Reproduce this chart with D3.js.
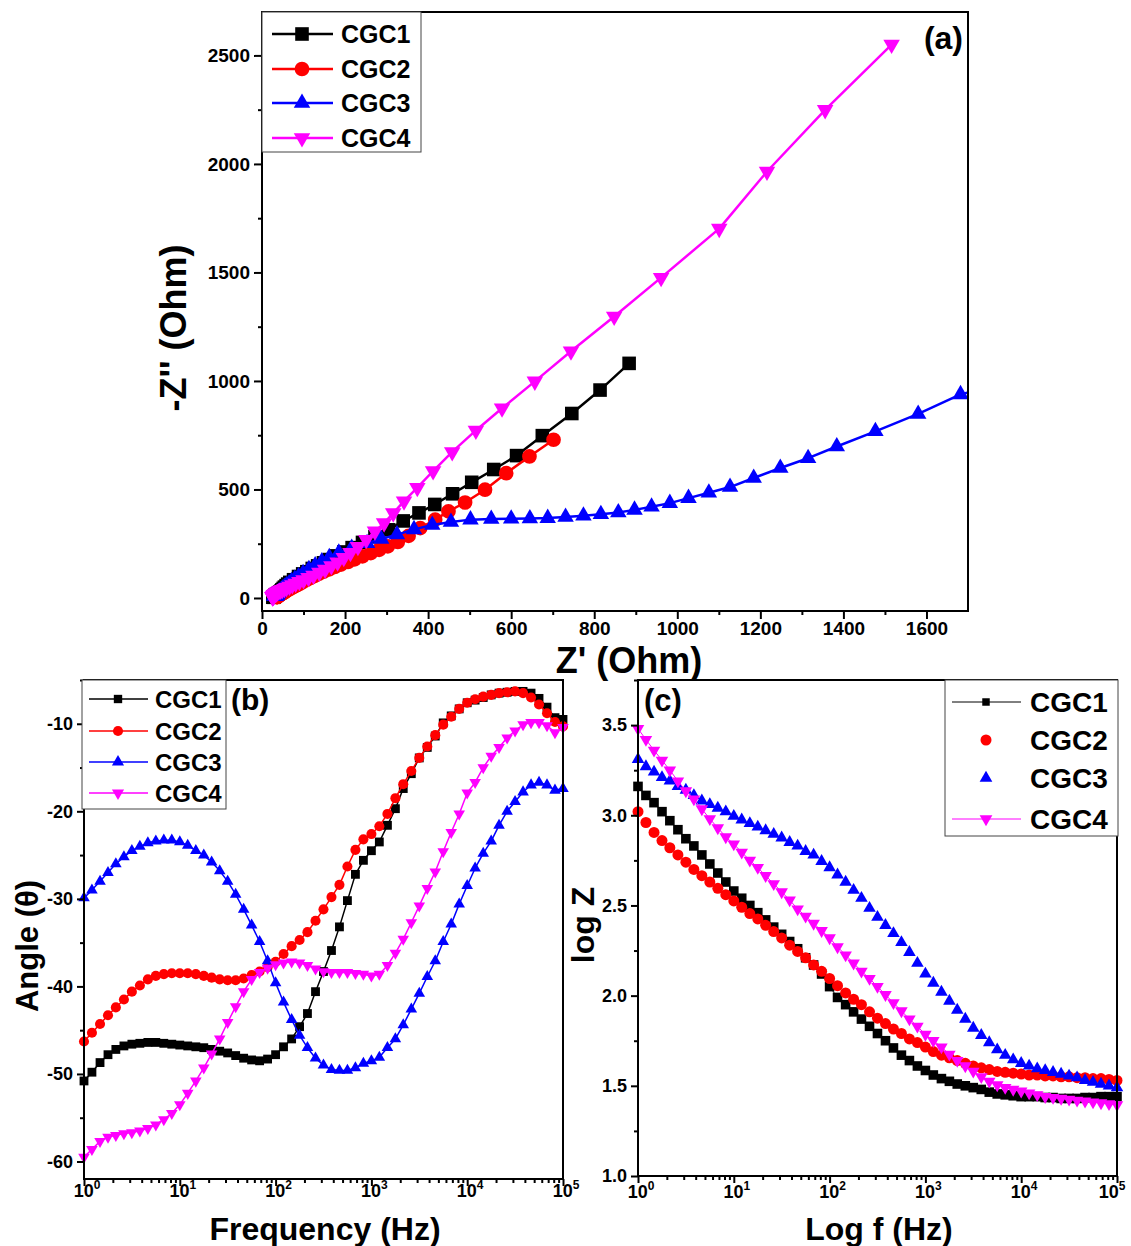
<!DOCTYPE html>
<html>
<head>
<meta charset="utf-8">
<script src="https://cdn.jsdelivr.net/npm/d3@7"></script>
<style>
html, body { margin: 0; padding: 0; background: #fff; }
svg { display: block; }
</style>
</head>
<body>
<script>
// ---------- data ----------
const seriesNames  = ["CGC1", "CGC2", "CGC3", "CGC4"];
const seriesColors = ["#000000", "#ff0000", "#0000ff", "#ff00ff"];

// Nyquist points [Z' (Ohm), -Z'' (Ohm)], low frequency first
const nyqCGC1 = [[884,1081],[814,958],[746,850],[675,748],[613,656],[558,592],[505,533],[459,480],[416,431],[378,392],[340,355],[305,314],[272,282],[242,256],[217,232],[197,212],[179,194],[162,177],[148,162],[134,148],[121,136],[108,121],[98,111],[88,99],[76,84],[67,72],[62,64],[58,57],[54,50],[51,44],[48,38],[46,33],[43,28],[41,24],[39,20],[37,18],[35,16],[33,14],[32,13],[31,11],[31,10],[30,8],[30,7],[29,6],[28.5,5.5],[28,5],[27.8,4.5],[27.5,4],[27.3,3.6],[27.2,3.4],[27,3.3]];
const nyqCGC2 = [[702,729],[644,652],[588,575],[537,499],[489,440],[449,399],[417,361],[381,322],[353,286],[327,258],[303,238],[282,222],[262,207],[242,192],[223,178],[207,166],[190,154],[175,143],[162,132],[148,121],[137,111],[126,101],[116,92],[108,84],[99,75],[92,67],[85,60],[79,54],[74,49],[69,43],[64,39],[61,35],[57,31],[55,27],[52,24],[50,22],[48,20],[46,18],[44,16],[43,14],[42,13],[41,11],[40,10],[39,9],[38,7.6],[37.4,6.7],[37,6],[36.8,5.4],[36.4,4.9],[36,4.5],[35.6,4.2]];
const nyqCGC3 = [[1775,985],[1682,938],[1580,848],[1477,768],[1384,698],[1315,644],[1248,599],[1184,553],[1127,511],[1076,485],[1027,460],[982,437],[938,420],[897,406],[858,394],[816,386],[774,379],[731,373],[688,368],[645,366],[600,365],[552,364],[502,361],[455,350],[410,336],[366,316],[325,292],[287,272],[253,252],[216,230],[185,208],[162,187],[144,168],[128,150],[113,132],[99,114],[88,99],[79,87],[71,77],[65,67],[59,58],[54,50],[50,43],[47,38],[44,33],[41,29],[39,25.5],[38,22.6],[37,20],[36.4,18],[35.8,16.4],[35.4,15],[35,13.6],[34.5,12.5],[34,11.5],[33.4,10.6],[32.4,9.9],[31.7,9.6],[31,9.5],[30,9.5],[29.5,9.2]];
const nyqCGC4 = [[1516,2550],[1356,2249],[1216,1965],[1101,1702],[961,1476],[848,1297],[744,1137],[657,998],[578,874],[515,772],[458,673],[412,585],[374,508],[342,446],[316,391],[294,345],[272,307],[251,268],[231,236],[213,208],[197,185],[182,165],[167,147],[152,131],[138,117],[124,104],[112,93],[100,83],[90,75],[81,67],[73,60],[66,53],[59,47],[54,43],[49,38],[45,35],[41,32],[38,28],[36,25],[34.3,22],[32.6,19.5],[31,17.2],[30,15],[29,13.4],[28.5,12],[28.3,10.6],[28,9.2],[27.6,8.2],[27.2,7.3],[26.7,6.6],[26.5,6],[26.3,5.5],[26,4.9],[25.8,4.5],[25.5,4.4],[25.2,4.5]];

// measurement frequencies (Hz)
const freqHz = [
  1, 1.21, 1.47, 1.78, 2.15, 2.61, 3.16, 3.83, 4.64, 5.62, 6.81, 8.25,
  10, 12.1, 14.7, 17.8, 21.5, 26.1, 31.6, 38.3, 46.4, 56.2, 68.1, 82.5,
  100, 121, 147, 178, 215, 261, 316, 383, 464, 562, 681, 825,
  1000, 1210, 1470, 1780, 2150, 2610, 3160, 3830, 4640, 5620, 6810, 8250,
  10000, 12100, 14700, 17800, 21500, 26100, 31600, 38300, 46400, 56200, 68100, 82500,
  100000
];

// phase angle (deg)
const phaseCGC1 = [-50.8,-49.8,-48.7,-47.8,-47.2,-46.8,-46.6,-46.5,-46.4,-46.4,-46.5,-46.6,
  -46.7,-46.8,-46.9,-47.0,-47.2,-47.4,-47.6,-47.9,-48.2,-48.4,-48.5,-48.3,
  -47.8,-46.9,-46.0,-44.6,-43.1,-40.6,-38.3,-35.9,-33.2,-30.2,-27.2,-25.6,
  -24.5,-23.5,-21.6,-19.7,-17.4,-15.7,-13.9,-12.7,-11.4,-9.9,-9.1,-8.3,
  -7.6,-7.3,-7.0,-6.7,-6.5,-6.4,-6.3,-6.3,-6.5,-7.1,-8.1,-9.3,
  -9.5];
const phaseCGC2 = [-46.3,-45.3,-44.3,-43.3,-42.4,-41.5,-40.6,-39.9,-39.2,-38.8,-38.6,-38.5,
  -38.5,-38.5,-38.6,-38.8,-39.0,-39.2,-39.3,-39.3,-39.1,-38.7,-38.3,-37.8,
  -37.2,-36.3,-35.4,-34.7,-33.8,-32.5,-31.2,-29.8,-28.4,-26.3,-24.4,-23.2,
  -22.6,-21.7,-20.3,-18.5,-16.9,-15.4,-13.9,-12.6,-11.3,-10.1,-9.2,-8.3,
  -7.6,-7.2,-6.9,-6.7,-6.5,-6.4,-6.3,-6.5,-7.0,-7.8,-8.8,-9.8,
  -10.3];
const phaseCGC3 = [-29.9,-29.0,-28.0,-27.0,-26.0,-25.2,-24.5,-24.0,-23.6,-23.4,-23.3,-23.3,
  -23.5,-23.9,-24.5,-25.0,-25.8,-26.8,-28.0,-29.5,-31.2,-33.0,-34.9,-37.1,
  -39.6,-41.8,-43.8,-45.6,-47.0,-48.2,-49.0,-49.5,-49.6,-49.6,-49.3,-48.8,
  -48.5,-48.1,-47.0,-46.0,-44.4,-42.6,-40.8,-38.9,-37.1,-34.9,-32.9,-30.6,
  -28.5,-26.5,-24.8,-23.4,-21.6,-20.0,-18.9,-17.8,-17.0,-16.7,-17.0,-17.6,
  -17.4];
const phaseCGC4 = [-59.5,-58.6,-57.7,-57.2,-57.0,-56.8,-56.7,-56.5,-56.2,-55.8,-55.2,-54.5,
  -53.5,-52.2,-50.8,-49.3,-47.7,-46.0,-44.1,-42.3,-40.6,-39.2,-38.4,-37.9,
  -37.5,-37.3,-37.2,-37.3,-37.6,-38.0,-38.3,-38.4,-38.4,-38.4,-38.5,-38.6,
  -38.8,-38.6,-37.6,-36.2,-34.6,-32.7,-30.8,-28.8,-26.9,-24.6,-22.4,-20.3,
  -17.9,-16.7,-15.0,-13.7,-12.7,-11.6,-10.8,-10.1,-9.85,-9.85,-10.2,-11.0,
  -10.4];

// log |Z|
const logZCGC1 = [3.16,3.11,3.07,3.02,2.97,2.92,2.87,2.83,2.78,2.73,2.68,2.63,
  2.58,2.54,2.50,2.46,2.42,2.38,2.34,2.30,2.26,2.21,2.17,2.12,
  2.05,1.99,1.95,1.91,1.87,1.83,1.79,1.75,1.71,1.67,1.64,1.61,
  1.585,1.56,1.54,1.525,1.51,1.50,1.49,1.48,1.465,1.455,1.45,1.445,
  1.44,1.44,1.44,1.435,1.435,1.43,1.43,1.43,1.435,1.435,1.44,1.44,
  1.44];
const logZCGC2 = [3.02,2.96,2.905,2.86,2.82,2.78,2.74,2.70,2.665,2.63,2.595,2.56,
  2.525,2.49,2.455,2.425,2.39,2.355,2.32,2.28,2.245,2.21,2.17,2.135,
  2.095,2.055,2.015,1.98,1.95,1.91,1.875,1.845,1.815,1.79,1.76,1.74,
  1.715,1.69,1.67,1.655,1.64,1.625,1.61,1.60,1.59,1.58,1.575,1.57,
  1.565,1.56,1.56,1.555,1.555,1.55,1.55,1.545,1.545,1.54,1.54,1.535,
  1.53];
const logZCGC3 = [3.31,3.27,3.24,3.21,3.19,3.16,3.14,3.11,3.08,3.06,3.04,3.02,
  2.995,2.975,2.955,2.935,2.915,2.895,2.875,2.85,2.83,2.80,2.78,2.745,
  2.71,2.67,2.63,2.585,2.54,2.485,2.435,2.39,2.345,2.295,2.24,2.18,
  2.12,2.07,2.02,1.97,1.92,1.87,1.82,1.78,1.74,1.70,1.67,1.645,
  1.625,1.61,1.595,1.585,1.575,1.565,1.555,1.545,1.53,1.52,1.51,1.50,
  1.49];
const logZCGC4 = [3.48,3.42,3.36,3.305,3.25,3.19,3.135,3.09,3.035,2.98,2.93,2.88,
  2.84,2.795,2.75,2.71,2.665,2.62,2.575,2.53,2.48,2.44,2.40,2.36,
  2.32,2.27,2.225,2.18,2.135,2.095,2.05,2.005,1.96,1.915,1.87,1.83,
  1.785,1.75,1.715,1.675,1.64,1.61,1.58,1.55,1.525,1.505,1.49,1.48,
  1.47,1.46,1.45,1.44,1.435,1.43,1.425,1.42,1.415,1.41,1.405,1.40,
  1.395];

// tick values
const nyqXTicks   = [0, 200, 400, 600, 800, 1000, 1200, 1400, 1600];
const nyqYTicks   = [0, 500, 1000, 1500, 2000, 2500];
const angleTicks  = [-10, -20, -30, -40, -50, -60];
const logZTicks   = [1.0, 1.5, 2.0, 2.5, 3.0, 3.5];
const decadeTicks = [1, 10, 100, 1000, 10000, 100000];
const decadeExps  = ["0", "1", "2", "3", "4", "5"];

// ---------- drawing helpers ----------
const FONT = "'Liberation Sans', Arial, Helvetica, sans-serif";
const symbolTypes = [d3.symbolSquare, d3.symbolCircle, d3.symbolTriangle, d3.symbolTriangle];
const plainNumber = d => String(d);          // hyphen-minus, as on the axes

const svg = d3.select("body").append("svg")
  .attr("width", 1131).attr("height", 1246)
  .attr("font-family", FONT).attr("font-weight", "bold");
svg.append("rect").attr("width", 1131).attr("height", 1246).attr("fill", "#fff");

function place(px, py, i) {
  return `translate(${px},${py})` + (i === 3 ? " rotate(180)" : "");
}

function styleAxis(sel, fs) {
  sel.select(".domain").remove();
  sel.attr("font-family", FONT).attr("font-size", fs).attr("font-weight", "bold");
  sel.selectAll(".tick line").attr("stroke", "#000").attr("stroke-width", 2);
  sel.selectAll(".tick text").attr("fill", "#000");
}

function frame(g, x, y) {
  const [x0, x1] = x.range(), [y1, y0] = y.range();
  g.append("rect").attr("x", x0).attr("y", y0)
    .attr("width", x1 - x0).attr("height", y1 - y0)
    .attr("fill", "none").attr("stroke", "#000").attr("stroke-width", 2);
}

function linearAxes(g, x, y, xt, xm, yt, ym, fmtX, fmtY, fs, major, minor) {
  const yb = y.range()[0], xl = x.range()[0];
  g.append("g").attr("transform", `translate(0,${yb})`)
    .call(d3.axisBottom(x).tickValues(xm).tickSize(minor).tickFormat(""))
    .call(s => styleAxis(s, fs));
  g.append("g").attr("transform", `translate(0,${yb})`)
    .call(d3.axisBottom(x).tickValues(xt).tickSize(major).tickPadding(3).tickFormat(fmtX))
    .call(s => styleAxis(s, fs));
  g.append("g").attr("transform", `translate(${xl},0)`)
    .call(d3.axisLeft(y).tickValues(ym).tickSize(minor).tickFormat(""))
    .call(s => styleAxis(s, fs));
  g.append("g").attr("transform", `translate(${xl},0)`)
    .call(d3.axisLeft(y).tickValues(yt).tickSize(major).tickPadding(4).tickFormat(fmtY))
    .call(s => styleAxis(s, fs));
}

function logXAxis(g, x, labelY, lastShift) {
  const yb = g.yBottom;
  const minors = decadeTicks.slice(0, -1).flatMap(d => [2,3,4,5,6,7,8,9].map(m => m * d));
  g.append("g").attr("transform", `translate(0,${yb})`)
    .call(d3.axisBottom(x).tickValues(minors).tickSize(4).tickFormat(""))
    .call(s => styleAxis(s, 10));
  g.append("g").attr("transform", `translate(0,${yb})`)
    .call(d3.axisBottom(x).tickValues(decadeTicks).tickSize(7).tickFormat(""))
    .call(s => styleAxis(s, 10));
  decadeTicks.forEach((v, k) => {
    const dx = k === decadeTicks.length - 1 ? lastShift : 3;
    const t = g.append("text").attr("x", x(v) + dx).attr("y", labelY)
      .attr("text-anchor", "middle").attr("font-size", 18).attr("fill", "#000");
    t.append("tspan").text("10");
    t.append("tspan").attr("dy", -8).attr("font-size", 12).text(decadeExps[k]);
  });
}

function legend(g, box, rows, lineX, markX, textX, fs, sizes, lineW, showLine) {
  g.append("rect").attr("x", box[0]).attr("y", box[1])
    .attr("width", box[2] - box[0]).attr("height", box[3] - box[1])
    .attr("fill", "#fff").attr("stroke", "#444").attr("stroke-width", 1);
  seriesNames.forEach((name, i) => {
    const cy = rows[i];
    if (showLine[i]) {
      g.append("line").attr("x1", lineX[0]).attr("x2", lineX[1]).attr("y1", cy).attr("y2", cy)
        .attr("stroke", seriesColors[i]).attr("stroke-width", lineW);
    }
    g.append("path").attr("d", d3.symbol(symbolTypes[i], sizes[i])())
      .attr("transform", place(markX, cy, i)).attr("fill", seriesColors[i]);
    g.append("text").attr("x", textX).attr("y", cy).attr("dy", "0.36em")
      .attr("font-size", fs).attr("fill", "#000").text(name);
  });
}

function series(g, pts, i, size, lineW, drawLine) {
  const colour = seriesColors[i];
  if (drawLine) {
    g.append("path").datum(pts)
      .attr("d", d3.line().x(d => d[0]).y(d => d[1]))
      .attr("fill", "none").attr("stroke", colour).attr("stroke-width", lineW)
      .attr("stroke-linejoin", "round");
  }
  g.selectAll(null).data(pts).join("path")
    .attr("d", d3.symbol(symbolTypes[i], size)())
    .attr("transform", d => place(d[0], d[1], i))
    .attr("fill", colour);
}

// ---------- (a) Nyquist ----------
{
  const x = d3.scaleLinear().domain([0, 1700]).range([262, 968]);
  const y = d3.scaleLinear().domain([-60, 2700]).range([611, 12]);
  const g = svg.append("g");
  g.append("clipPath").attr("id", "clipA").append("rect")
    .attr("x", 262).attr("y", 12).attr("width", 706).attr("height", 599);
  const plot = g.append("g").attr("clip-path", "url(#clipA)");
  const sizes = [185, 170, 118, 118];
  [nyqCGC1, nyqCGC2, nyqCGC3, nyqCGC4].forEach((arr, i) => {
    series(plot, arr.map(d => [x(d[0]), y(d[1])]), i, sizes[i], 2.5, true);
  });
  linearAxes(g, x, y, nyqXTicks, d3.range(100, 1700, 200), nyqYTicks, d3.range(250, 2700, 500),
    plainNumber, plainNumber, 19, 8, 4);
  frame(g, x, y);
  legend(g, [262, 12, 421, 152], [34, 69, 103, 138], [272, 333], 302, 341, 25,
    sizes, 2.5, [true, true, true, true]);
  g.append("text").attr("x", 963).attr("y", 49).attr("text-anchor", "end")
    .attr("font-size", 32).text("(a)");
  g.append("text").attr("transform", "translate(186,328) rotate(-90)")
    .attr("text-anchor", "middle").attr("font-size", 36).text("-Z'' (Ohm)");
  g.append("text").attr("x", 629).attr("y", 673)
    .attr("text-anchor", "middle").attr("font-size", 36).text("Z' (Ohm)");
}

// ---------- (b) phase angle ----------
{
  const x = d3.scaleLog().domain([1, 1e5]).range([84, 563]);
  const y = d3.scaleLinear().domain([-62, -5]).range([1179, 680]);
  const g = svg.append("g");
  g.yBottom = 1179;
  const sizes = [78, 80, 58, 58];
  [phaseCGC1, phaseCGC2, phaseCGC3, phaseCGC4].forEach((arr, i) => {
    series(g, freqHz.map((f, k) => [x(f), y(arr[k])]), i, sizes[i], 1.5, true);
  });
  const ax = g.append("g");
  ax.append("g").attr("transform", "translate(84,0)")
    .call(d3.axisLeft(y).tickValues([-5, -15, -25, -35, -45, -55]).tickSize(4).tickFormat(""))
    .call(s => styleAxis(s, 18));
  ax.append("g").attr("transform", "translate(84,0)")
    .call(d3.axisLeft(y).tickValues(angleTicks).tickSize(7).tickPadding(4).tickFormat(plainNumber))
    .call(s => styleAxis(s, 18));
  logXAxis(g, x, 1197, 3);
  frame(g, x, y);
  legend(g, [82, 680, 226, 809], [699, 731, 762, 793], [89, 148], 118, 155, 24,
    [70, 80, 64, 64], 1.5, [true, true, true, true]);
  g.append("text").attr("x", 231).attr("y", 710).attr("font-size", 30).text("(b)");
  g.append("text").attr("transform", "translate(38,946) rotate(-90)")
    .attr("text-anchor", "middle").attr("font-size", 31).text("Angle (θ)");
  g.append("text").attr("x", 325).attr("y", 1240)
    .attr("text-anchor", "middle").attr("font-size", 32).text("Frequency (Hz)");
}

// ---------- (c) log |Z| ----------
{
  const x = d3.scaleLog().domain([1, 1e5]).range([638, 1117]);
  const y = d3.scaleLinear().domain([1.0, 3.75]).range([1176, 680]);
  const g = svg.append("g");
  g.yBottom = 1176;
  const sizes = [92, 95, 68, 68];
  const withLine = [true, false, false, true];
  [logZCGC1, logZCGC2, logZCGC3, logZCGC4].forEach((arr, i) => {
    series(g, freqHz.map((f, k) => [x(f), y(arr[k])]), i, sizes[i], 1, withLine[i]);
  });
  const ax = g.append("g");
  ax.append("g").attr("transform", "translate(638,0)")
    .call(d3.axisLeft(y).tickValues([1.25, 1.75, 2.25, 2.75, 3.25, 3.75]).tickSize(4).tickFormat(""))
    .call(s => styleAxis(s, 18));
  ax.append("g").attr("transform", "translate(638,0)")
    .call(d3.axisLeft(y).tickValues(logZTicks).tickSize(7).tickPadding(4).tickFormat(d3.format(".1f")))
    .call(s => styleAxis(s, 18));
  logXAxis(g, x, 1198, -5);
  frame(g, x, y);
  legend(g, [945, 680, 1118, 836], [702, 740, 778, 819], [952, 1021], 986, 1030, 28,
    [56, 95, 70, 70], 1, withLine);
  g.append("text").attr("x", 644).attr("y", 711).attr("font-size", 31).text("(c)");
  g.append("text").attr("transform", "translate(594,925) rotate(-90)")
    .attr("text-anchor", "middle").attr("font-size", 32).text("log Z");
  g.append("text").attr("x", 879).attr("y", 1240)
    .attr("text-anchor", "middle").attr("font-size", 32).text("Log f (Hz)");
}
</script>
</body>
</html>
